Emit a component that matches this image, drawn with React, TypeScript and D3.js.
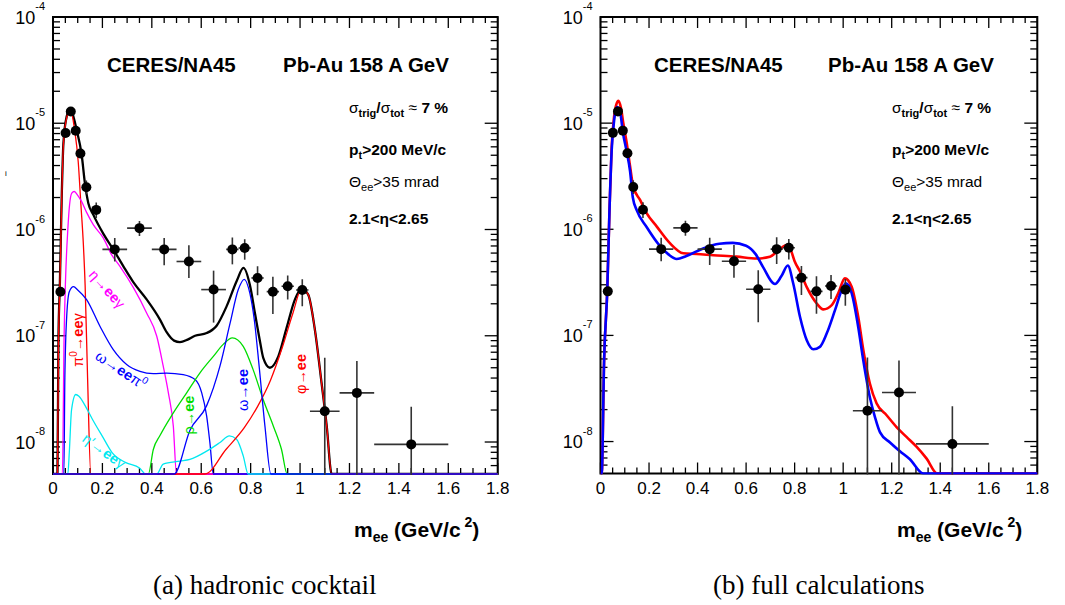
import React from "react";
import * as d3 from "d3";

type Pt = [number, number];

const SANS = "'Liberation Sans', Arial, Helvetica, sans-serif";
const SERIF = "'Liberation Serif', 'Times New Roman', Times, serif";

// axis ranges
const Y_MIN = 5e-9;
const Y_MAX = 1e-4;
const M_MAX = 1.8;

const massTickValues = [0, 0.2, 0.4, 0.6, 0.8, 1, 1.2, 1.4, 1.6, 1.8];
const massTickLabels = ["0", "0.2", "0.4", "0.6", "0.8", "1", "1.2", "1.4", "1.6", "1.8"];
const yieldDecades = [-8, -7, -6, -5, -4];

// measured e+e- pair yield, CERES/NA45 Pb-Au 158 A GeV
const massData = [0.03, 0.051, 0.072, 0.092, 0.111, 0.135, 0.175, 0.25, 0.35, 0.45, 0.55, 0.65, 0.726, 0.776, 0.828, 0.89, 0.95, 1.009, 1.1, 1.23, 1.45];
const yieldData = [2.6e-7, 8.1e-6, 1.29e-5, 8.5e-6, 5.2e-6, 2.5e-6, 1.53e-6, 6.5e-7, 1.03e-6, 6.5e-7, 5.0e-7, 2.72e-7, 6.5e-7, 6.7e-7, 3.5e-7, 2.6e-7, 2.92e-7, 2.7e-7, 1.95e-8, 2.9e-8, 9.5e-9];
const yieldUpper = [2.8e-7, 8.6e-6, 1.36e-5, 9.0e-6, 5.6e-6, 2.9e-6, 1.8e-6, 8.3e-7, 1.2e-6, 8.3e-7, 7.1e-7, 4.1e-7, 8.4e-7, 8.1e-7, 4.5e-7, 3.6e-7, 3.7e-7, 3.4e-7, 6.2e-8, 5.8e-8, 2.15e-8];
const yieldLower = [2.4e-7, 7.6e-6, 1.22e-5, 8.0e-6, 4.9e-6, 2.15e-6, 1.28e-6, 5.0e-7, 8.7e-7, 4.6e-7, 3.5e-7, 1.33e-7, 4.7e-7, 5.2e-7, 2.4e-7, 1.6e-7, 2.2e-7, 1.9e-7, 1e-9, 1e-9, 1e-9];
const massHalfWidth = [0, 0, 0, 0, 0, 0.01, 0.015, 0.05, 0.05, 0.05, 0.05, 0.05, 0.025, 0.025, 0.025, 0.025, 0.025, 0.025, 0.06, 0.07, 0.15];

// hadronic cocktail: sum and individual sources
const cocktailSum: Pt[] = [
  [0.018, 5e-9], [0.022, 9e-8], [0.028, 3.2e-7], [0.035, 1.9e-6], [0.042, 6.4e-6], [0.055, 1.15e-5],
  [0.071, 1.38e-5], [0.085, 1.1e-5], [0.096, 8.6e-6], [0.116, 5.05e-6], [0.13, 2.64e-6], [0.143, 1.77e-6],
  [0.163, 1.38e-6], [0.204, 9.1e-7], [0.244, 6.5e-7], [0.285, 4.5e-7], [0.325, 3.2e-7], [0.379, 2.2e-7],
  [0.433, 1.42e-7], [0.46, 1.08e-7], [0.49, 9.0e-8], [0.514, 8.7e-8], [0.545, 9.2e-8], [0.575, 1.0e-7],
  [0.622, 1.06e-7], [0.663, 1.25e-7], [0.703, 1.9e-7], [0.744, 3.3e-7], [0.771, 4.35e-7], [0.797, 3.0e-7],
  [0.818, 1.6e-7], [0.838, 8.8e-8], [0.851, 6.2e-8], [0.878, 5.0e-8], [0.912, 6.4e-8], [0.946, 1.2e-7],
  [0.979, 2.19e-7], [1.006, 2.78e-7], [1.033, 2.44e-7], [1.06, 1.14e-7], [1.087, 3.6e-8], [1.108, 1.41e-8],
  [1.128, 5e-9],
];
const pi0Dalitz: Pt[] = [
  [0.018, 5e-9], [0.022, 8e-8], [0.028, 3.0e-7], [0.035, 1.8e-6], [0.042, 6.2e-6], [0.055, 1.12e-5],
  [0.07, 1.34e-5], [0.088, 8.5e-6], [0.102, 4.37e-6], [0.113, 1.71e-6], [0.123, 7.2e-7], [0.13, 3.0e-7],
  [0.14, 4e-8], [0.153, 5e-9],
];
const etaDalitz: Pt[] = [
  [0.038, 5e-9], [0.045, 1e-7], [0.051, 3.5e-7], [0.06, 1.0e-6], [0.067, 1.7e-6], [0.076, 2.2e-6],
  [0.086, 2.28e-6], [0.1, 2.1e-6], [0.115, 1.85e-6], [0.136, 1.45e-6], [0.163, 1.11e-6], [0.204, 8.3e-7],
  [0.237, 5.8e-7], [0.271, 4.5e-7], [0.325, 2.85e-7], [0.379, 1.64e-7], [0.42, 9.9e-8], [0.446, 5.2e-8],
  [0.467, 2.9e-8], [0.487, 1.41e-8], [0.5, 5e-9],
];
const omegaDalitz: Pt[] = [
  [0.044, 5e-9], [0.048, 4e-8], [0.056, 1.6e-7], [0.066, 2.6e-7], [0.083, 2.9e-7], [0.1, 2.7e-7],
  [0.136, 2.19e-7], [0.19, 1.23e-7], [0.244, 7.4e-8], [0.298, 5.37e-8], [0.352, 4.63e-8], [0.406, 4.41e-8],
  [0.46, 4.45e-8], [0.527, 4.3e-8], [0.575, 3.87e-8], [0.602, 2.9e-8], [0.622, 1.75e-8], [0.635, 9.9e-9],
  [0.649, 5e-9],
];
const etaPrimeDalitz: Pt[] = [
  [0.06, 5e-9], [0.066, 8e-9], [0.075, 2e-8], [0.092, 2.8e-8], [0.105, 2.7e-8], [0.13, 2.2e-8],
  [0.16, 1.63e-8], [0.2, 1.13e-8], [0.24, 7.9e-9], [0.295, 6.4e-9], [0.35, 5.7e-9], [0.375, 5e-9],
  [0.39, 4e-9], [0.42, 4e-9], [0.446, 6.2e-9], [0.514, 6.6e-9], [0.554, 6.85e-9], [0.622, 8.2e-9],
  [0.676, 9.9e-9], [0.714, 1.14e-8], [0.743, 1.06e-8], [0.77, 7.4e-9], [0.79, 5e-9],
];
const rhoToEE: Pt[] = [
  [0.386, 5e-9], [0.406, 8.5e-9], [0.433, 1.15e-8], [0.487, 1.88e-8], [0.541, 2.9e-8], [0.595, 4.48e-8],
  [0.649, 6.4e-8], [0.689, 8.3e-8], [0.726, 9.55e-8], [0.77, 7.96e-8], [0.81, 4.8e-8], [0.851, 2.5e-8],
  [0.892, 1.41e-8], [0.925, 8.5e-9], [0.948, 5e-9],
];
const omegaToEE: Pt[] = [
  [0.49, 5e-9], [0.555, 1.3e-8], [0.622, 2.2e-8], [0.676, 5.2e-8], [0.717, 1.32e-7], [0.75, 2.72e-7],
  [0.774, 3.4e-7], [0.797, 2.5e-7], [0.815, 1.4e-7], [0.835, 5.0e-8], [0.858, 1.4e-8], [0.882, 5e-9],
];
const phiToEE: Pt[] = [
  [0.615, 5e-9], [0.7, 8.5e-9], [0.775, 1.37e-8], [0.83, 2.2e-8], [0.88, 3.8e-8], [0.93, 8e-8],
  [0.97, 1.6e-7], [1.007, 2.78e-7], [1.033, 2.44e-7], [1.06, 1.14e-7], [1.087, 3.6e-8], [1.108, 1.41e-8],
  [1.128, 5e-9],
];

// full calculations
const calcRed: Pt[] = [
  [0.005, 5e-9], [0.015, 6e-8], [0.028, 2.7e-7], [0.037, 1.5e-6], [0.046, 6e-6], [0.056, 1.15e-5],
  [0.066, 1.52e-5], [0.074, 1.62e-5], [0.084, 1.4e-5], [0.094, 1.0e-5], [0.108, 6.5e-6], [0.122, 3.9e-6],
  [0.135, 2.52e-6], [0.163, 1.89e-6], [0.19, 1.42e-6], [0.232, 1.06e-6], [0.286, 7.4e-7], [0.341, 5.94e-7],
  [0.396, 5.85e-7], [0.465, 5.7e-7], [0.561, 5.52e-7], [0.644, 5.3e-7], [0.698, 5.5e-7], [0.733, 6.3e-7],
  [0.767, 7.1e-7], [0.785, 6.3e-7], [0.8, 5.0e-7], [0.822, 4.0e-7], [0.85, 2.85e-7], [0.891, 2.0e-7],
  [0.918, 1.76e-7], [0.953, 1.93e-7], [0.98, 2.5e-7], [1.007, 3.45e-7], [1.035, 2.88e-7], [1.062, 1.5e-7],
  [1.083, 7.3e-8], [1.11, 3.52e-8], [1.138, 2.28e-8], [1.179, 1.77e-8], [1.22, 1.37e-8], [1.262, 1.1e-8],
  [1.303, 8.9e-9], [1.344, 6.9e-9], [1.388, 5e-9],
];
const calcBlue: Pt[] = [
  [0.005, 5e-9], [0.015, 6e-8], [0.028, 2.7e-7], [0.037, 1.5e-6], [0.046, 5.5e-6], [0.055, 1.0e-5],
  [0.068, 1.42e-5], [0.08, 1.3e-5], [0.093, 8e-6], [0.107, 5.5e-6], [0.122, 3.5e-6], [0.133, 2.0e-6],
  [0.15, 1.5e-6], [0.19, 1.05e-6], [0.244, 7.0e-7], [0.28, 5.8e-7], [0.314, 5.25e-7], [0.354, 5.6e-7],
  [0.423, 6.6e-7], [0.49, 7.3e-7], [0.545, 7.45e-7], [0.6, 7.0e-7], [0.64, 5.8e-7], [0.67, 4.4e-7],
  [0.719, 3.05e-7], [0.745, 3.6e-7], [0.772, 4.55e-7], [0.794, 3.1e-7], [0.822, 1.5e-7], [0.85, 9.0e-8],
  [0.877, 7.4e-8], [0.904, 7.8e-8], [0.932, 1.04e-7], [0.966, 1.72e-7], [0.994, 2.66e-7], [1.011, 3.09e-7],
  [1.035, 2.5e-7], [1.062, 1.2e-7], [1.083, 5.8e-8], [1.11, 2.61e-8], [1.131, 1.7e-8], [1.152, 1.22e-8],
  [1.193, 9.8e-9], [1.234, 8.1e-9], [1.275, 6.8e-9], [1.33, 5e-9],
];

interface CurveSpec { pts: Pt[]; color: string; width: number }

interface PanelProps {
  id: string;
  left: number;
  right: number;
  top: number;
  bottom: number;
  curves: CurveSpec[];
  titleX: [number, number];
  infoX: number;
  axisTitleX: number;
  children?: React.ReactNode;
}

function Panel(p: PanelProps) {
  const x = d3.scaleLinear().domain([0, M_MAX]).range([p.left, p.right]);
  const y = d3.scaleLog().domain([Y_MIN, Y_MAX]).range([p.bottom, p.top]);
  const line = d3
    .line<Pt>()
    .x((d) => x(d[0]))
    .y((d) => y(Math.max(d[1], Y_MIN)))
    .curve(d3.curveMonotoneX);

  const minorM = d3
    .range(0, 37)
    .map((i) => +(i * 0.05).toFixed(2))
    .filter((v) => !massTickValues.some((t) => Math.abs(t - v) < 1e-6));
  const minorY: number[] = [];
  for (let e = -9; e <= -5; e++) {
    for (let k = 2; k <= 9; k++) {
      const v = k * Math.pow(10, e);
      if (v > Y_MIN * 1.001 && v < Y_MAX) minorY.push(v);
    }
  }
  const clip = `clip-${p.id}`;

  return (
    <g>
      <defs>
        <clipPath id={clip}>
          <rect x={p.left} y={p.top - 2} width={p.right - p.left + 1} height={p.bottom - p.top + 3} />
        </clipPath>
      </defs>

      {/* frame and ticks */}
      <rect x={p.left} y={p.top} width={p.right - p.left} height={p.bottom - p.top} fill="#fff" stroke="#000" strokeWidth={2} />
      <g stroke="#000" strokeWidth={1.3}>
        {massTickValues.map((v) => (
          <g key={`M${v}`}>
            <line x1={x(v)} x2={x(v)} y1={p.bottom} y2={p.bottom - 11} />
            <line x1={x(v)} x2={x(v)} y1={p.top} y2={p.top + 11} />
          </g>
        ))}
        {minorM.map((v) => (
          <g key={`m${v}`}>
            <line x1={x(v)} x2={x(v)} y1={p.bottom} y2={p.bottom - 6} />
            <line x1={x(v)} x2={x(v)} y1={p.top} y2={p.top + 6} />
          </g>
        ))}
        {yieldDecades.map((e) => (
          <g key={`Y${e}`}>
            <line x1={p.left} x2={p.left + 13} y1={y(Math.pow(10, e))} y2={y(Math.pow(10, e))} />
            <line x1={p.right} x2={p.right - 13} y1={y(Math.pow(10, e))} y2={y(Math.pow(10, e))} />
          </g>
        ))}
        {minorY.map((v) => (
          <g key={`y${v}`}>
            <line x1={p.left} x2={p.left + 7} y1={y(v)} y2={y(v)} />
            <line x1={p.right} x2={p.right - 7} y1={y(v)} y2={y(v)} />
          </g>
        ))}
      </g>

      {/* tick labels */}
      <g fontFamily={SANS} fill="#000">
        {massTickValues.map((v, i) => (
          <text key={`L${v}`} x={x(v)} y={p.bottom + 20} fontSize={17} textAnchor="middle">
            {massTickLabels[i]}
          </text>
        ))}
        {yieldDecades.map((e) => (
          <text key={`E${e}`} x={p.left - 8} y={y(Math.pow(10, e)) + 6.5} fontSize={18} textAnchor="end">
            10
            <tspan dy={-13.5} fontSize={11}>
              {String(e)}
            </tspan>
          </text>
        ))}
      </g>

      {/* model curves */}
      <g clipPath={`url(#${clip})`} fill="none" strokeLinejoin="round">
        {p.curves.map((c, i) => (
          <path
            key={i}
            d={line([[0, Y_MIN], ...c.pts, [M_MAX, Y_MIN]]) || ""}
            stroke={c.color}
            strokeWidth={c.width}
          />
        ))}
      </g>

      {p.children}

      {/* data with errors */}
      <g clipPath={`url(#${clip})`}>
        {massData.map((m, i) => (
          <g key={`d${i}`} stroke="#333" strokeWidth={1.6}>
            <line x1={x(m)} x2={x(m)} y1={y(yieldLower[i])} y2={y(yieldUpper[i])} />
            {massHalfWidth[i] > 0 && (
              <line x1={x(m - massHalfWidth[i])} x2={x(m + massHalfWidth[i])} y1={y(yieldData[i])} y2={y(yieldData[i])} />
            )}
            <circle cx={x(m)} cy={y(yieldData[i])} r={5} fill="#000" stroke="none" />
          </g>
        ))}
      </g>

      {/* experiment, system and cuts */}
      <g fontFamily={SANS} fill="#000">
        <text x={p.titleX[0]} y={72} fontSize={20.5} fontWeight="bold">CERES/NA45</text>
        <text x={p.titleX[1]} y={72} fontSize={20.5} fontWeight="bold">Pb-Au 158 A GeV</text>
        <text x={p.infoX} y={113} fontSize={15.5}>
          σ<tspan dy={4} fontSize={11} fontWeight="bold">trig</tspan>
          <tspan dy={-4} fontWeight="bold">/</tspan>σ
          <tspan dy={4} fontSize={11} fontWeight="bold">tot</tspan>
          <tspan dy={-4}> ≈ </tspan>
          <tspan fontWeight="bold">7 %</tspan>
        </text>
        <text x={p.infoX} y={155} fontSize={15.5} fontWeight="bold">
          p<tspan dy={4} fontSize={11}>t</tspan>
          <tspan dy={-4}>&gt;200 MeV/c</tspan>
        </text>
        <text x={p.infoX} y={187} fontSize={15.5}>
          Θ<tspan dy={4} fontSize={11}>ee</tspan>
          <tspan dy={-4}>&gt;35 mrad</tspan>
        </text>
        <text x={p.infoX} y={224} fontSize={15.5} fontWeight="bold">2.1&lt;η&lt;2.65</text>
        <text x={p.axisTitleX} y={537} fontSize={21} fontWeight="bold">
          m<tspan dy={5} fontSize={14}>ee</tspan>
          <tspan dy={-5}> (GeV/c</tspan>
          <tspan dy={-10} fontSize={14}> 2</tspan>
          <tspan dy={10}>)</tspan>
        </text>
      </g>
    </g>
  );
}

function CurveLabel(props: { x: number; y: number; angle: number; color: string; children: React.ReactNode }) {
  return (
    <text
      transform={`translate(${props.x},${props.y}) rotate(${props.angle})`}
      textAnchor="middle"
      dominantBaseline="central"
      fill={props.color}
      fontFamily={SANS}
      fontSize={14.5}
    >
      {props.children}
    </text>
  );
}

export default function App() {
  const RED = "#ff0000";
  const MAGENTA = "#ff00ff";
  const BLUE = "#0000ff";
  const CYAN = "#00e8f0";
  const GREEN = "#00dd00";

  const cocktailCurves: CurveSpec[] = [
    { pts: cocktailSum, color: "#000", width: 2.3 },
    { pts: pi0Dalitz, color: RED, width: 1.3 },
    { pts: etaDalitz, color: MAGENTA, width: 1.3 },
    { pts: omegaDalitz, color: BLUE, width: 1.3 },
    { pts: etaPrimeDalitz, color: CYAN, width: 1.3 },
    { pts: rhoToEE, color: GREEN, width: 1.3 },
    { pts: phiToEE, color: RED, width: 1.3 },
    { pts: omegaToEE, color: BLUE, width: 1.3 },
  ];
  const calcCurves: CurveSpec[] = [
    { pts: calcRed, color: RED, width: 2.6 },
    { pts: calcBlue, color: BLUE, width: 2.6 },
  ];

  return (
    <svg
      width={1065}
      height={605}
      viewBox="0 0 1065 605"
      style={{ position: "absolute", left: 0, top: 0, background: "#fff" }}
    >
      <rect x={0} y={0} width={1065} height={605} fill="#fff" />
      <text x={5} y={176} fontSize={8} fontFamily={SANS}>i</text>

      <Panel
        id="cocktail"
        left={53}
        right={497.7}
        top={17}
        bottom={474}
        curves={cocktailCurves}
        titleX={[107, 283]}
        infoX={349}
        axisTitleX={354}
      >
        <g>
          <CurveLabel x={107} y={289} angle={48} color={MAGENTA}>
            η→<tspan fontWeight="bold">ee</tspan>γ
          </CurveLabel>
          <CurveLabel x={78} y={340} angle={-90} color={RED}>
            π<tspan dy={-5} fontSize={10}>0</tspan>
            <tspan dy={5}>→</tspan>
            <tspan fontWeight="bold">ee</tspan>γ
          </CurveLabel>
          <CurveLabel x={121} y={370} angle={33} color={BLUE}>
            ω→<tspan fontWeight="bold">ee</tspan>π<tspan dy={-5} fontSize={10}>0</tspan>
          </CurveLabel>
          <CurveLabel x={104} y={451} angle={36} color={CYAN}>
            η′→<tspan fontWeight="bold">ee</tspan>γ
          </CurveLabel>
          <CurveLabel x={188.5} y={415} angle={-90} color={GREEN}>
            ρ→<tspan fontWeight="bold">ee</tspan>
          </CurveLabel>
          <CurveLabel x={242.5} y={390} angle={-90} color={BLUE}>
            ω→<tspan fontWeight="bold">ee</tspan>
          </CurveLabel>
          <CurveLabel x={301} y={374} angle={-90} color={RED}>
            φ→<tspan fontWeight="bold">ee</tspan>
          </CurveLabel>
        </g>
      </Panel>

      <Panel
        id="calc"
        left={600.5}
        right={1037.3}
        top={17}
        bottom={473.5}
        curves={calcCurves}
        titleX={[654, 828]}
        infoX={892}
        axisTitleX={897}
      />

      <g fontFamily={SERIF} fontSize={27} fill="#000">
        <text x={153} y={594}>(a) hadronic cocktail</text>
        <text x={713} y={594}>(b) full calculations</text>
      </g>
    </svg>
  );
}
